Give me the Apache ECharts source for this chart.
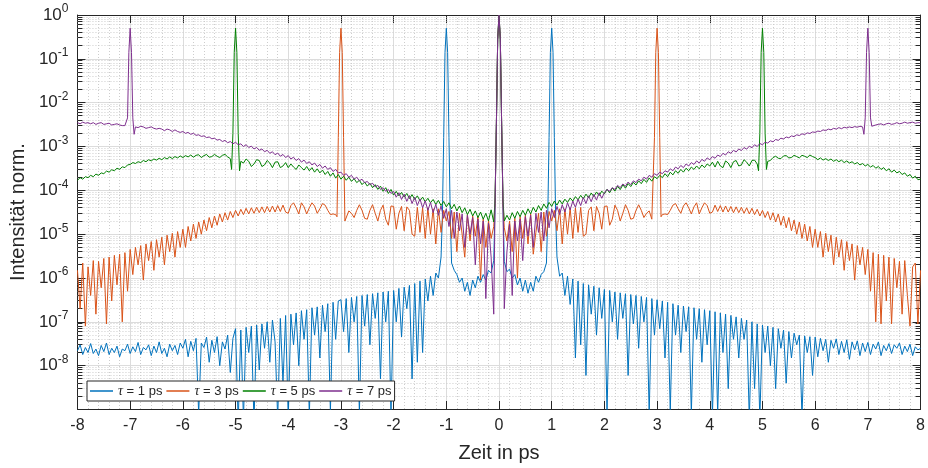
<!DOCTYPE html>
<html><head><meta charset="utf-8">
<script src="https://cdn.jsdelivr.net/npm/echarts@6/dist/echarts.min.js"></script>
<style>html,body{margin:0;padding:0;background:#fff}#c{width:928px;height:468px}</style>
</head><body><div id="c"></div>
<script>
// sampling grid of the time axis (ps)
const tStart = -8, tStep = 0.05;
const xMin = -8, xMax = 8, xInterval = 1;
const yMin = 1.03e-9, yMax = 1;
const seriesNames = ['τ = 1 ps', 'τ = 3 ps', 'τ = 5 ps', 'τ = 7 ps'];
const seriesColors = ['#0072BD', '#D95319', '#008000', '#7E2F8E'];
const minorMantissas = [2, 3, 4, 5, 6, 7, 8, 9];
const minorDecades = [-9, -8, -7, -6, -5, -4, -3, -2, -1];

// tau = 1 ps, one row per ps, values on the 0.05 ps grid
const tau1 = [
2.2e-8,3.0e-8,1.8e-8,2.6e-8,2.0e-8,3.2e-8,1.9e-8,2.4e-8,1.7e-8,2.9e-8,2.1e-8,3.3e-8,1.8e-8,2.5e-8,2.0e-8,2.8e-8,1.6e-8,2.4e-8,2.2e-8,3.1e-8,
1.9e-8,2.7e-8,2.1e-8,3.4e-8,1.8e-8,2.6e-8,2.3e-8,3.0e-8,1.7e-8,2.8e-8,2.0e-8,3.5e-8,1.9e-8,2.5e-8,1.6e-8,3.1e-8,2.2e-8,2.9e-8,1.8e-8,3.3e-8,
2.5e-8,4.0e-8,1.6e-8,3.6e-8,2.2e-8,4.2e-8,8e-10,3.3e-8,2.6e-8,4.5e-8,1.2e-8,3.8e-8,2.0e-8,4.6e-8,1.0e-8,3.5e-8,2.4e-8,5.0e-8,7e-9,4.2e-8,
7e-8,5e-10,6.5e-8,6e-10,7.5e-8,2e-8,8e-8,5e-10,8.5e-8,8e-9,9e-8,2.5e-8,1.0e-7,1.2e-8,1.1e-7,3.5e-8,6e-10,1.2e-7,4e-9,1.4e-7,
6e-10,1.5e-7,3e-8,1.6e-7,1e-8,1.8e-7,4e-8,1.9e-7,7e-10,2.1e-7,5e-8,2.2e-7,1.5e-8,2.4e-7,6e-8,2.6e-7,9e-10,2.8e-7,4e-8,3.0e-7,
3.2e-7,6e-8,3.4e-7,2e-8,3.6e-7,1e-7,3.8e-7,8e-10,4.0e-7,8e-8,4.2e-7,3e-8,4.4e-7,1.2e-7,4.6e-7,5e-9,4.8e-7,1e-7,5.0e-7,7e-10,
5.2e-7,1e-7,5.8e-7,4.5e-8,6.2e-7,2e-7,6.8e-7,5e-9,7.5e-7,1.2e-8,8.5e-7,2e-8,9.5e-7,3e-7,1.1e-6,4e-7,1.3e-6,1.0e-6,3e-6,1.6e-3,
0.5,1.6e-3,2.2e-6,1.5e-6,1.2e-6,8e-7,1e-6,5e-7,8e-7,4e-7,9e-7,6e-7,1.1e-6,8e-7,1.2e-6,9e-7,1.5e-6,1.3e-6,2.5e-6,3.2e-3,
1,3.2e-3,2.4e-6,1.4e-6,1.6e-6,1e-6,1.2e-6,7e-7,1e-6,5e-7,9e-7,4.5e-7,8e-7,5e-7,1.1e-6,8e-7,1.2e-6,1.4e-6,2.2e-6,1.6e-3,
0.5,1.6e-3,3e-6,1.1e-6,1.3e-6,4e-7,1.1e-6,2.5e-7,9.5e-7,1.5e-8,8.5e-7,3e-8,7.5e-7,6e-9,7e-7,1.5e-7,6.5e-7,5e-8,6e-7,1.2e-7,
5.5e-7,8e-10,5.2e-7,1e-7,4.8e-7,4e-8,4.6e-7,1.2e-7,4.4e-7,6e-9,4.2e-7,9e-8,4.0e-7,2.5e-8,3.8e-7,1e-7,3.6e-7,8e-10,3.4e-7,5e-8,
3.2e-7,7e-8,3.0e-7,1.5e-8,2.8e-7,9e-10,2.6e-7,5e-8,2.4e-7,2e-8,2.3e-7,6e-8,2.2e-7,8e-10,2.1e-7,4e-8,2.0e-7,1.2e-8,1.9e-7,3e-8,
1.8e-7,7e-10,1.7e-7,8e-10,1.6e-7,2e-8,1.5e-7,3e-9,1.4e-7,4e-8,1.3e-7,1.5e-8,1.2e-7,4e-8,1.1e-7,6e-10,1.0e-7,3e-9,9e-8,6e-10,
8.5e-8,2e-8,8e-8,1e-8,7.5e-8,3e-9,7e-8,2.5e-8,6.5e-8,4e-9,6e-8,1.5e-8,5.5e-8,3e-8,5e-8,7e-10,4.8e-8,2e-8,4.6e-8,6e-9,
4.5e-8,1.6e-8,4.2e-8,2.2e-8,4.0e-8,1.2e-8,3.8e-8,2.5e-8,4.1e-8,1.8e-8,3.6e-8,2.0e-8,3.9e-8,1.4e-8,3.5e-8,2.3e-8,3.7e-8,1.7e-8,3.3e-8,2.1e-8,
3.4e-8,1.8e-8,3.1e-8,2.4e-8,3.5e-8,1.7e-8,2.9e-8,2.2e-8,3.2e-8,1.9e-8,3.0e-8,2.5e-8,3.3e-8,1.8e-8,2.8e-8,2.1e-8,3.1e-8,1.7e-8,2.7e-8,2.3e-8,
2.5e-8];
const tau1Peaks = [[-1.075,2.5e-5],[-1.025,0.14],[-0.975,0.14],[-0.925,2.5e-5],[-0.075,5e-5],[-0.025,0.28],[0.025,0.28],[0.075,5e-5],[0.925,2.5e-5],[0.975,0.14],[1.025,0.14],[1.075,2.5e-5]];

const tau3 = [
1.5e-6,2e-7,2.2e-6,8e-8,1.8e-6,4e-7,2.5e-6,1.5e-7,2.4e-6,6e-7,2.8e-6,9e-8,3e-6,3e-7,3.3e-6,7e-7,3.5e-6,1e-7,3.8e-6,5e-7,
4.5e-6,1.2e-6,5e-6,2e-6,5.5e-6,9e-7,6e-6,2.5e-6,6.8e-6,1.5e-6,7.5e-6,3e-6,8.5e-6,2e-6,9.5e-6,4e-6,1.05e-5,3e-6,1.15e-5,5e-6,
1.3e-5,5e-6,1.5e-5,7e-6,1.7e-5,8e-6,1.9e-5,1e-5,2.1e-5,1.2e-5,2.4e-5,1.4e-5,2.6e-5,1.6e-5,2.9e-5,1.9e-5,3.1e-5,2.1e-5,3.3e-5,2.4e-5,
3.5e-5,2.6e-5,3.7e-5,2.8e-5,3.9e-5,2.9e-5,4.0e-5,3.0e-5,4.1e-5,3.1e-5,4.2e-5,3.1e-5,4.3e-5,3.2e-5,4.4e-5,3.2e-5,4.5e-5,3.3e-5,4.6e-5,3.2e-5,
3.0e-5,4.5e-5,5.2e-5,4.0e-5,2.9e-5,5.2e-5,4.2e-5,2.9e-5,4.0e-5,5.2e-5,4.4e-5,3.0e-5,3.8e-5,5.0e-5,4.6e-5,3.5e-5,2.8e-5,2.9e-5,2.8e-5,1.6e-3,
0.5,1.6e-3,2.2e-5,3.4e-5,3e-5,2.4e-5,3.5e-5,4.7e-5,3.5e-5,2.3e-5,2.2e-5,3.5e-5,4.7e-5,3e-5,2e-5,3.5e-5,4.6e-5,2.2e-5,1.6e-5,4.4e-5,
4.3e-5,1.3e-5,3e-5,4.3e-5,1.2e-5,4.2e-5,3.5e-5,1e-5,9e-6,4.1e-5,1.1e-5,4e-5,8e-6,4e-5,1e-5,3.8e-5,6e-6,3.8e-5,1.1e-5,3.5e-5,
2e-5,3.3e-5,8e-6,3.2e-5,4e-6,3e-5,1e-5,3e-6,2.8e-5,7e-6,2.6e-5,9e-6,2.5e-5,9e-7,2.2e-5,5e-6,2e-5,8e-6,1.5e-5,3.2e-3,
1,3.2e-3,1.4e-5,7e-6,2e-5,4e-6,2.3e-5,1e-6,2.5e-5,8e-6,2.7e-5,6e-6,2.9e-5,3.5e-6,1.1e-5,3e-5,4e-6,3.2e-5,9e-6,3.3e-5,
2e-5,3.5e-5,1.2e-5,3.8e-5,6e-6,3.8e-5,1e-5,4e-5,8e-6,4e-5,1.1e-5,4.1e-5,9e-6,1e-5,3.5e-5,4.2e-5,1.2e-5,4.3e-5,3e-5,1.3e-5,
4.3e-5,4.4e-5,1.6e-5,2.2e-5,4.6e-5,3.5e-5,2e-5,3e-5,4.7e-5,3.5e-5,2.2e-5,2.3e-5,3.5e-5,4.7e-5,3.5e-5,2.4e-5,3e-5,3.4e-5,2.2e-5,1.6e-3,
0.5,1.6e-3,2.8e-5,2.9e-5,2.8e-5,3.5e-5,4.6e-5,5e-5,3.8e-5,3e-5,4.4e-5,5.2e-5,4e-5,2.9e-5,4.2e-5,5.2e-5,2.9e-5,4e-5,5.2e-5,4.5e-5,
3.0e-5,3.2e-5,4.6e-5,3.3e-5,4.5e-5,3.2e-5,4.4e-5,3.2e-5,4.3e-5,3.1e-5,4.2e-5,3.1e-5,4.1e-5,3.0e-5,4.0e-5,2.9e-5,3.9e-5,2.8e-5,3.7e-5,2.6e-5,
3.5e-5,2.4e-5,3.3e-5,2.1e-5,3.1e-5,1.9e-5,2.9e-5,1.6e-5,2.6e-5,1.4e-5,2.4e-5,1.2e-5,2.1e-5,1e-5,1.9e-5,8e-6,1.7e-5,7e-6,1.5e-5,5e-6,
1.3e-5,5e-6,1.15e-5,3e-6,1.05e-5,4e-6,9.5e-6,2e-6,8.5e-6,3e-6,7.5e-6,1.5e-6,6.8e-6,2.5e-6,6e-6,9e-7,5.5e-6,2e-6,5e-6,1.2e-6,
4.5e-6,5e-7,3.8e-6,1e-7,3.5e-6,9e-8,3.3e-6,3e-7,3e-6,9e-8,2.8e-6,6e-7,2.4e-6,1.5e-7,2.5e-6,4e-7,8e-8,1.8e-6,2.2e-6,9e-8,
1.5e-6];
const tau3Peaks = [[-3.075,2.5e-5],[-3.025,0.14],[-2.975,0.14],[-2.925,2e-5],[-0.075,5e-5],[-0.025,0.28],[0.025,0.28],[0.075,5e-5],[2.925,2e-5],[2.975,0.14],[3.025,0.14],[3.075,2.5e-5]];

const tau5 = [
1.7e-4,1.95e-4,1.8e-4,2.05e-4,1.95e-4,2.2e-4,2.05e-4,2.35e-4,2.2e-4,2.5e-4,2.4e-4,2.75e-4,2.6e-4,2.95e-4,2.8e-4,3.2e-4,3.0e-4,3.45e-4,3.3e-4,3.8e-4,
3.9e-4,4.3e-4,4.1e-4,4.5e-4,4.3e-4,4.8e-4,4.5e-4,5.0e-4,4.7e-4,5.2e-4,4.9e-4,5.4e-4,5.0e-4,5.6e-4,5.2e-4,5.8e-4,5.3e-4,5.9e-4,5.5e-4,6.1e-4,
5.6e-4,6.2e-4,5.8e-4,6.4e-4,5.7e-4,6.3e-4,6.5e-4,5.6e-4,6.2e-4,6.6e-4,5.7e-4,5.9e-4,6.6e-4,6.0e-4,5.6e-4,6.3e-4,6.6e-4,5.8e-4,5.3e-4,2e-3,
0.5,2e-3,4.6e-4,4.2e-4,5.2e-4,4.6e-4,3.5e-4,4.0e-4,5.0e-4,4.8e-4,3.5e-4,3.8e-4,4.8e-4,4.2e-4,3.3e-4,4.4e-4,4.5e-4,3.3e-4,3.6e-4,4.3e-4,
3.3e-4,4.0e-4,3.4e-4,3.0e-4,3.8e-4,3.3e-4,2.9e-4,3.5e-4,2.8e-4,3.3e-4,2.6e-4,3.1e-4,2.5e-4,2.9e-4,2.3e-4,2.7e-4,2.1e-4,2.5e-4,1.9e-4,2.3e-4,
1.8e-4,2.1e-4,1.7e-4,2.0e-4,1.6e-4,1.85e-4,1.5e-4,1.7e-4,1.35e-4,1.55e-4,1.25e-4,1.45e-4,1.15e-4,1.35e-4,1.05e-4,1.25e-4,9.5e-5,1.15e-4,8.5e-5,1.05e-4,
7.8e-5,9.5e-5,7.5e-5,9e-5,7e-5,8.5e-5,6.5e-5,8e-5,6.2e-5,7.5e-5,5.8e-5,7e-5,5.5e-5,6.6e-5,5.2e-5,6.2e-5,4.8e-5,5.9e-5,4.5e-5,5.6e-5,
4.2e-5,5.2e-5,3.8e-5,4.8e-5,3.4e-5,4.4e-5,3.1e-5,4e-5,2.8e-5,3.7e-5,2.6e-5,3.4e-5,2.4e-5,3.2e-5,2.2e-5,3e-5,2.0e-5,3.6e-5,1.9e-5,3.2e-3,
1,3.2e-3,2.0e-5,2.7e-5,2.1e-5,3.1e-5,2.3e-5,3.3e-5,2.5e-5,3.5e-5,2.7e-5,3.8e-5,2.9e-5,4.1e-5,3.2e-5,4.5e-5,3.5e-5,4.9e-5,3.9e-5,5.3e-5,
4.3e-5,5.7e-5,4.6e-5,6.0e-5,4.9e-5,6.3e-5,5.3e-5,6.7e-5,5.7e-5,7.2e-5,6.1e-5,7.7e-5,6.4e-5,8.2e-5,6.8e-5,8.7e-5,7.2e-5,9.2e-5,7.6e-5,9.6e-5,
8.3e-5,1.06e-4,8.8e-5,1.14e-4,9.6e-5,1.24e-4,1.04e-4,1.34e-4,1.12e-4,1.43e-4,1.22e-4,1.52e-4,1.32e-4,1.65e-4,1.42e-4,1.78e-4,1.52e-4,1.92e-4,1.62e-4,2.05e-4,
1.85e-4,2.2e-4,1.95e-4,2.4e-4,2.05e-4,2.6e-4,2.25e-4,2.8e-4,2.45e-4,3.0e-4,2.6e-4,3.2e-4,2.8e-4,3.4e-4,3.0e-4,3.6e-4,3.1e-4,3.8e-4,3.3e-4,4.0e-4,
3.6e-4,4.4e-4,3.4e-4,4.6e-4,3.6e-4,3.3e-4,4.7e-4,4.2e-4,3.3e-4,4.5e-4,4.8e-4,3.6e-4,3.8e-4,5.0e-4,4.4e-4,3.6e-4,4.8e-4,4.9e-4,4.0e-4,2e-3,
0.5,2e-3,4.6e-4,4.8e-4,5.6e-4,6.0e-4,5.4e-4,5.3e-4,6.1e-4,6.2e-4,5.5e-4,5.6e-4,6.3e-4,5.9e-4,5.5e-4,6.3e-4,6.0e-4,5.6e-4,6.4e-4,5.9e-4,
5.6e-4,5.0e-4,5.5e-4,4.9e-4,5.3e-4,4.8e-4,5.2e-4,4.6e-4,5.0e-4,4.5e-4,4.9e-4,4.3e-4,4.7e-4,4.2e-4,4.5e-4,4.0e-4,4.3e-4,3.8e-4,4.1e-4,3.6e-4,
3.9e-4,3.4e-4,3.7e-4,3.2e-4,3.5e-4,3.0e-4,3.3e-4,2.8e-4,3.1e-4,2.6e-4,2.9e-4,2.5e-4,2.7e-4,2.3e-4,2.5e-4,2.1e-4,2.3e-4,1.9e-4,2.1e-4,1.75e-4,
1.8e-4];
const tau5Peaks = [[-5.075,3e-4],[-5.025,0.14],[-4.975,0.14],[-4.925,2.8e-4],[-0.075,6e-5],[-0.025,0.28],[0.025,0.28],[0.075,6e-5],[4.925,2.8e-4],[4.975,0.14],[5.025,0.14],[5.075,3e-4]];

const tau7 = [
3.5e-3,3.3e-3,3.6e-3,3.4e-3,3.5e-3,3.3e-3,3.5e-3,3.2e-3,3.4e-3,3.5e-3,3.2e-3,3.3e-3,3.4e-3,3.1e-3,3.2e-3,3.3e-3,3.1e-3,3.0e-3,3.0e-3,4.5e-3,
0.5,4.5e-3,2.8e-3,2.7e-3,2.9e-3,2.8e-3,2.6e-3,2.7e-3,2.8e-3,2.6e-3,2.5e-3,2.6e-3,2.5e-3,2.3e-3,2.5e-3,2.4e-3,2.2e-3,2.4e-3,2.2e-3,2.1e-3,
2.2e-3,2.0e-3,2.1e-3,1.9e-3,2.0e-3,1.8e-3,1.85e-3,1.7e-3,1.75e-3,1.6e-3,1.65e-3,1.5e-3,1.55e-3,1.4e-3,1.45e-3,1.3e-3,1.38e-3,1.22e-3,1.3e-3,1.15e-3,
1.25e-3,1.1e-3,1.15e-3,1.0e-3,1.1e-3,9.5e-4,1.02e-3,8.8e-4,9.5e-4,8.2e-4,8.8e-4,7.6e-4,8.2e-4,7.0e-4,7.6e-4,6.5e-4,7.1e-4,6.0e-4,6.6e-4,5.6e-4,
6.2e-4,5.2e-4,5.7e-4,4.8e-4,5.3e-4,4.4e-4,4.9e-4,4.1e-4,4.5e-4,3.8e-4,4.2e-4,3.5e-4,3.9e-4,3.2e-4,3.6e-4,3.0e-4,3.3e-4,2.7e-4,3.0e-4,2.5e-4,
2.6e-4,2.2e-4,2.4e-4,2.0e-4,2.2e-4,1.8e-4,2.0e-4,1.65e-4,1.8e-4,1.5e-4,1.6e-4,1.35e-4,1.45e-4,1.2e-4,1.3e-4,1.05e-4,1.15e-4,9.5e-5,1.05e-4,8.5e-5,
9.5e-5,7e-5,8.8e-5,6.2e-5,8.2e-5,5.6e-5,7.6e-5,5e-5,7e-5,4.5e-5,6.4e-5,4e-5,5.8e-5,3.5e-5,5.3e-5,3.1e-5,4.8e-5,2.7e-5,4.4e-5,2.3e-5,
3.8e-5,1.5e-5,3.5e-5,8e-6,3.2e-5,1.2e-5,2.9e-5,5e-6,2.7e-5,1e-5,2.4e-5,2e-6,2.2e-5,6e-6,2e-5,3.4e-7,1.8e-5,3e-6,1.5e-7,3.2e-3,
1,3.2e-3,2e-7,4e-6,1.7e-5,4e-7,2e-5,7e-6,2.2e-5,2.5e-6,2.5e-5,9e-6,2.7e-5,5e-6,3e-5,1.1e-5,3.2e-5,7e-6,3.5e-5,1.4e-5,
3.8e-5,2.4e-5,4.3e-5,2.8e-5,4.7e-5,3.2e-5,5.2e-5,3.6e-5,5.7e-5,4.1e-5,6.3e-5,4.5e-5,6.9e-5,5e-5,7.5e-5,5.5e-5,8.1e-5,6e-5,8.8e-5,6.6e-5,
8.8e-5,1.05e-4,9.5e-5,1.15e-4,1.05e-4,1.3e-4,1.15e-4,1.4e-4,1.25e-4,1.55e-4,1.35e-4,1.65e-4,1.5e-4,1.8e-4,1.65e-4,2.0e-4,1.8e-4,2.2e-4,2.0e-4,2.4e-4,
2.2e-4,2.6e-4,2.4e-4,2.8e-4,2.6e-4,3.1e-4,2.8e-4,3.4e-4,3.1e-4,3.7e-4,3.3e-4,4.0e-4,3.6e-4,4.3e-4,3.9e-4,4.7e-4,4.2e-4,5.1e-4,4.6e-4,5.5e-4,
5.0e-4,5.9e-4,5.4e-4,6.4e-4,5.9e-4,7.0e-4,6.4e-4,7.6e-4,7.0e-4,8.2e-4,7.5e-4,8.8e-4,8.1e-4,9.5e-4,8.7e-4,1.02e-3,9.4e-4,1.1e-3,1.0e-3,1.17e-3,
1.1e-3,1.25e-3,1.2e-3,1.35e-3,1.28e-3,1.45e-3,1.38e-3,1.55e-3,1.48e-3,1.65e-3,1.58e-3,1.75e-3,1.68e-3,1.85e-3,1.78e-3,1.95e-3,1.88e-3,2.05e-3,1.98e-3,2.15e-3,
2.1e-3,2.25e-3,2.2e-3,2.4e-3,2.3e-3,2.5e-3,2.4e-3,2.6e-3,2.5e-3,2.7e-3,2.55e-3,2.75e-3,2.65e-3,2.8e-3,2.7e-3,2.85e-3,2.75e-3,2.9e-3,2.8e-3,4.5e-3,
0.5,4.5e-3,3.0e-3,3.1e-3,3.2e-3,3.3e-3,3.1e-3,3.3e-3,3.4e-3,3.2e-3,3.3e-3,3.5e-3,3.3e-3,3.4e-3,3.6e-3,3.4e-3,3.5e-3,3.6e-3,3.4e-3,3.5e-3,
3.5e-3];
const tau7Peaks = [[-7.075,2.9e-3],[-7.025,0.14],[-6.975,0.14],[-6.925,1.9e-3],[-0.075,5e-5],[-0.025,0.28],[0.025,0.28],[0.075,5e-5],[6.925,1.9e-3],[6.975,0.14],[7.025,0.14],[7.075,2.9e-3]];

function buildSeriesData(values, peaks) {
  const pts = values.map((v, i) => [+(tStart + i * tStep).toFixed(3), v]);
  return pts.concat(peaks).sort((a, b) => a[0] - b[0]);
}
const allValues = [tau1, tau3, tau5, tau7];
const allPeaks = [tau1Peaks, tau3Peaks, tau5Peaks, tau7Peaks];

const minorValues = [];
minorDecades.forEach(d => minorMantissas.forEach(m => {
  const v = m * Math.pow(10, d);
  if (v > yMin && v < yMax) minorValues.push([0, v]);
}));

const textColor = '#262626';
const fontFam = 'Liberation Sans, Arial, Helvetica, sans-serif';

const chart = echarts.init(document.getElementById('c'), null, {renderer: 'canvas'});
const lineSeries = seriesNames.map((name, k) => ({
  name: name, type: 'line', data: buildSeriesData(allValues[k], allPeaks[k]),
  symbol: 'none', showSymbol: false, clip: true, z: 3 + k,
  lineStyle: {color: seriesColors[k], width: 1}, itemStyle: {color: seriesColors[k]},
  emphasis: {disabled: true}
}));

const crisp = y => Math.round(y - 0.5) + 0.5;
const minorSeries = {
  type: 'custom', name: 'minor', data: minorValues, z: 1, silent: true,
  xAxisIndex: 0, yAxisIndex: 0,
  renderItem: (params, api) => {
    const v = api.value(1);
    const l = api.coord([xMin, v]);
    const r = api.coord([xMax, v]);
    const y = crisp(l[1]);
    return {type: 'group', children: [
      {type: 'line', shape: {x1: l[0], y1: y, x2: r[0], y2: y}, style: {stroke: '#cdcdcd', lineWidth: 1, lineDash: [1, 2]}},
      {type: 'line', shape: {x1: l[0], y1: y, x2: l[0] + 5, y2: y}, style: {stroke: textColor, lineWidth: 1}},
      {type: 'line', shape: {x1: r[0], y1: y, x2: r[0] - 5, y2: y}, style: {stroke: textColor, lineWidth: 1}}
    ]};
  }
};

const option = {
  animation: false,
  backgroundColor: '#fff',
  textStyle: {fontFamily: fontFam},
  grid: {left: 77, right: 5, top: 15, bottom: 58, containLabel: false},
  legend: {
    data: seriesNames, left: 87, top: 381, orient: 'horizontal',
    icon: 'rect', itemWidth: 23, itemHeight: 1.5, itemGap: 4, padding: [3, 3],
    backgroundColor: '#fff', borderColor: textColor, borderWidth: 1, borderRadius: 0,
    formatter: n => '{i|τ}' + n.slice(1),
    textStyle: {fontFamily: fontFam, fontSize: 13, color: textColor, lineHeight: 14,
      rich: {i: {fontFamily: 'Liberation Serif, DejaVu Serif, serif', fontStyle: 'italic', fontSize: 14, color: textColor}}}
  },
  xAxis: [{
    type: 'value', min: xMin, max: xMax, interval: xInterval, position: 'bottom',
    name: 'Zeit in ps', nameLocation: 'middle', nameGap: 34,
    nameTextStyle: {fontFamily: fontFam, fontSize: 20, color: textColor},
    axisLine: {show: true, onZero: false, lineStyle: {color: textColor, width: 1}},
    axisTick: {show: true, inside: true, length: 8, lineStyle: {color: textColor}},
    axisLabel: {fontFamily: fontFam, fontSize: 16, color: textColor, margin: 9},
    splitLine: {show: true, lineStyle: {color: '#dcdcdc', width: 1}},
    minorTick: {show: false, splitNumber: 5},
    minorSplitLine: {show: true, lineStyle: {color: '#cdcdcd', width: 1, type: [1, 2]}}
  }, {
    type: 'value', min: xMin, max: xMax, interval: xInterval, position: 'top',
    axisLine: {show: true, onZero: false, lineStyle: {color: textColor, width: 1}},
    axisTick: {show: true, inside: true, length: 8, lineStyle: {color: textColor}},
    axisLabel: {show: false}, splitLine: {show: false}
  }],
  yAxis: [{
    type: 'log', logBase: 10, min: yMin, max: yMax, splitNumber: 9, position: 'left',
    name: 'Intensität norm.', nameLocation: 'middle', nameGap: 45,
    nameTextStyle: {fontFamily: fontFam, fontSize: 20, color: textColor},
    axisLine: {show: true, onZero: false, lineStyle: {color: textColor, width: 1}},
    axisTick: {show: true, inside: true, length: 8, lineStyle: {color: textColor}},
    axisLabel: {
      showMinLabel: false, margin: 9, color: textColor,
      formatter: v => '{b|10}{s|' + Math.round(Math.log10(v)) + '}',
      rich: {b: {fontFamily: fontFam, fontSize: 17, color: textColor},
             s: {fontFamily: fontFam, fontSize: 12, color: textColor, padding: [0, 0, 12, 0]}}
    },
    splitLine: {show: true, lineStyle: {color: '#dcdcdc', width: 1}}
  }, {
    type: 'log', logBase: 10, min: yMin, max: yMax, splitNumber: 9, position: 'right',
    axisLine: {show: true, onZero: false, lineStyle: {color: textColor, width: 1}},
    axisTick: {show: true, inside: true, length: 8, lineStyle: {color: textColor}},
    axisLabel: {show: false}, splitLine: {show: false}
  }],
  series: [minorSeries].concat(lineSeries)
};
chart.setOption(option);
</script></body></html>
